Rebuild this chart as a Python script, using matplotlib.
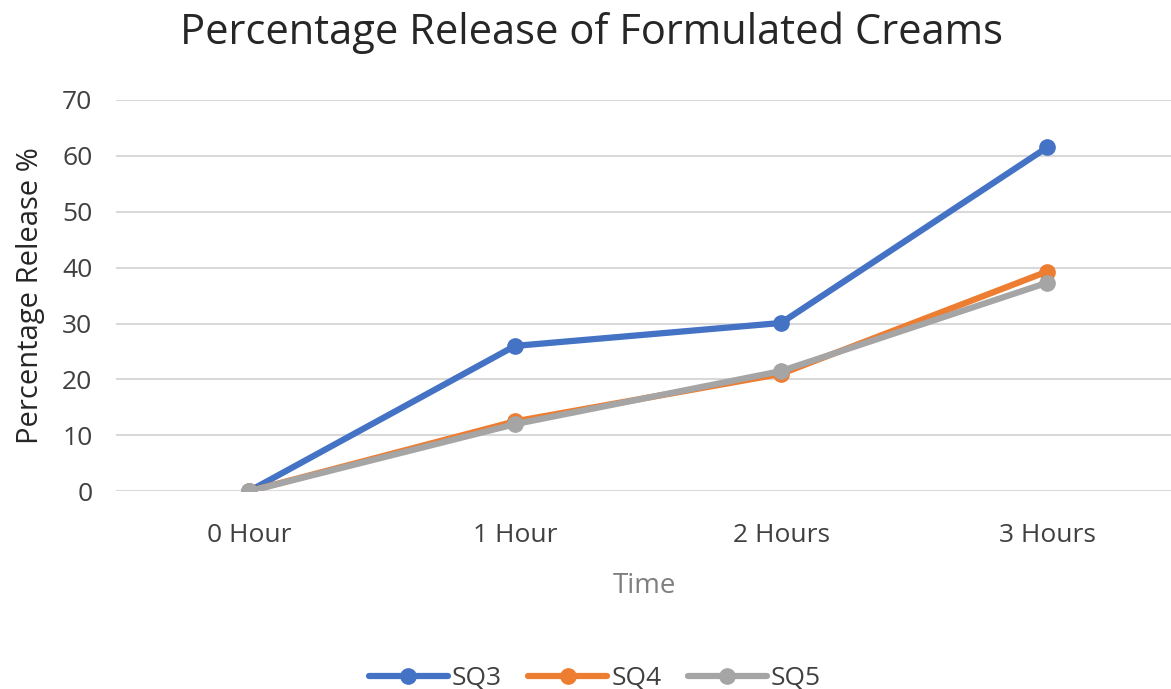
import matplotlib.pyplot as plt

# data
times = ["0 Hour", "1 Hour", "2 Hours", "3 Hours"]
sq3 = [0, 26.0, 30.1, 61.5]
sq4 = [0, 12.5, 21.0, 39.3]
sq5 = [0, 12.0, 21.5, 37.3]
series_names = ["SQ3", "SQ4", "SQ5"]
colors = ["#4472C4", "#ED7D31", "#A5A5A5"]

plt.rcParams["font.family"] = ["Open Sans", "DejaVu Sans"]

fig = plt.figure(figsize=(11.71, 6.89), dpi=100)
ax = fig.add_axes([0.099, 0.287, 0.902, 0.568])

x = range(len(times))
for vals, name, c in zip([sq3, sq4, sq5], series_names, colors):
    ax.plot(x, vals, color=c, lw=4.5, marker="o", markersize=11,
            label=name, solid_capstyle="round")

ax.set_xlim(-0.5, 3.47)
ax.set_ylim(0, 70)
ax.set_yticks(range(0, 71, 10))
ax.set_xticks(list(x))
ax.set_xticklabels(times)
ax.grid(axis="y", color="#D9D9D9", lw=1.5)
ax.set_axisbelow(True)
for s in ax.spines.values():
    s.set_visible(False)
ax.tick_params(length=0, labelsize=19, labelcolor="#404040")
ax.tick_params(axis="x", pad=23)
ax.tick_params(axis="y", pad=17)

ax.set_xlabel("Time", fontsize=20, color="#7F7F7F", labelpad=17)
ax.set_ylabel("Percentage Release %", fontsize=21, color="#262626", labelpad=12)
fig.text(0.505, 0.952, "Percentage Release of Formulated Creams", fontsize=30,
         color="#262626", ha="center", va="center")

fig.legend(loc="center", bbox_to_anchor=(0.508, 0.015), ncol=3, frameon=False,
           fontsize=19, handlelength=3.0, columnspacing=1.0, handletextpad=0.15,
           labelcolor="#404040")

fig.savefig("out.png", dpi=100)
